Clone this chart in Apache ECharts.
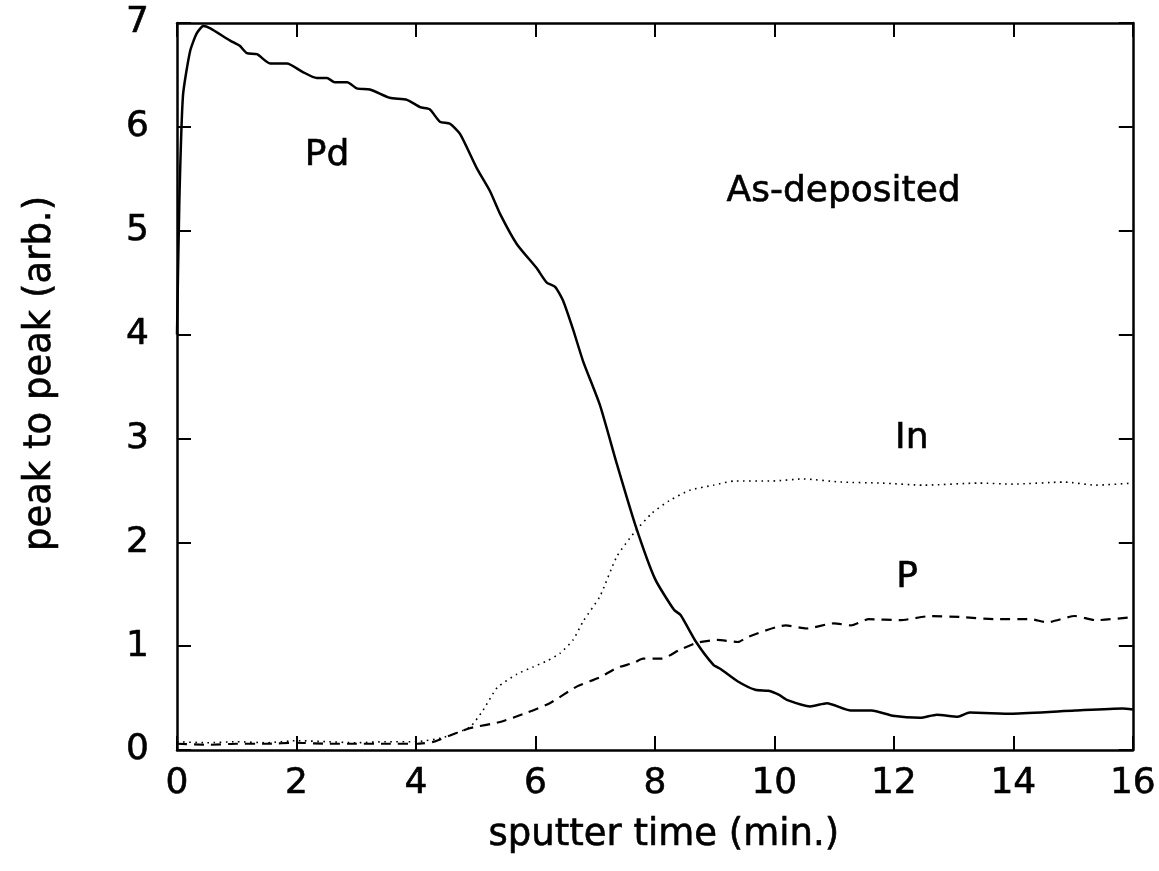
<!DOCTYPE html>
<html>
<head>
<meta charset="utf-8">
<title>AES depth profile</title>
<script src="https://cdn.jsdelivr.net/npm/echarts@6/dist/echarts.min.js"></script>
<style>
  html, body { margin: 0; padding: 0; background: #ffffff; }
  #chart { width: 1159px; height: 871px; }
</style>
</head>
<body>
<div id="chart"></div>
<script>
// Auger depth profile of the as-deposited film: peak-to-peak heights vs sputter time.
const xTicks = [0, 2, 4, 6, 8, 10, 12, 14, 16];
const yTicks = [0, 1, 2, 3, 4, 5, 6, 7];

// [sputter time (min), peak to peak (arb.)]
const pdSeries = [
  [0, 4.0], [0.04, 5.3], [0.1, 6.3], [0.22, 6.73], [0.33, 6.9], [0.44, 6.97], [0.55, 6.95],
  [0.89, 6.83], [1.05, 6.78], [1.17, 6.71], [1.34, 6.70], [1.56, 6.61], [1.84, 6.61],
  [2.1, 6.53], [2.34, 6.47], [2.51, 6.47], [2.64, 6.43], [2.85, 6.43], [3.01, 6.37],
  [3.23, 6.36], [3.56, 6.28], [3.85, 6.26], [4.07, 6.19], [4.23, 6.17], [4.40, 6.05],
  [4.57, 6.03], [4.74, 5.93], [5.02, 5.60], [5.24, 5.38], [5.41, 5.16], [5.69, 4.87],
  [6.02, 4.64], [6.19, 4.50], [6.33, 4.46], [6.46, 4.33], [6.63, 4.05], [6.80, 3.74],
  [7.08, 3.32], [7.36, 2.76], [7.67, 2.17], [8.0, 1.65], [8.32, 1.35], [8.43, 1.30],
  [8.69, 1.04], [8.98, 0.82], [9.10, 0.78], [9.39, 0.66], [9.68, 0.58], [9.9, 0.57],
  [10.08, 0.53], [10.22, 0.48], [10.6, 0.42], [10.88, 0.45], [11.28, 0.38], [11.63, 0.38],
  [11.98, 0.33], [12.44, 0.31], [12.72, 0.34], [13.07, 0.32], [13.27, 0.36], [13.99, 0.35],
  [15.03, 0.38], [15.83, 0.40], [16, 0.39]
];

const inSeries = [
  [0, 0.08], [0.5, 0.07], [1, 0.08], [1.5, 0.07], [2, 0.09], [2.5, 0.08], [3, 0.07],
  [3.5, 0.08], [4, 0.08], [4.45, 0.12], [4.9, 0.22], [5.12, 0.38], [5.36, 0.6],
  [5.69, 0.73], [5.96, 0.8], [6.2, 0.86], [6.41, 0.93], [6.63, 1.06], [6.8, 1.24],
  [7.08, 1.48], [7.36, 1.86], [7.65, 2.09], [7.95, 2.28], [8.24, 2.40], [8.58, 2.50],
  [8.98, 2.55], [9.33, 2.59], [9.96, 2.59], [10.48, 2.61], [11.11, 2.58], [11.8, 2.57],
  [12.5, 2.55], [13.43, 2.57], [13.99, 2.56], [14.86, 2.58], [15.38, 2.55], [16, 2.57]
];

const pSeries = [
  [0, 0.06], [0.5, 0.05], [1, 0.06], [1.5, 0.06], [2, 0.07], [2.5, 0.06], [3, 0.06],
  [3.5, 0.06], [4, 0.06], [4.3, 0.08], [4.57, 0.14], [4.9, 0.21], [5.41, 0.27],
  [5.86, 0.36], [6.24, 0.45], [6.69, 0.61], [7.08, 0.70], [7.36, 0.79], [7.65, 0.84],
  [7.8, 0.88], [8.12, 0.88], [8.4, 0.96], [8.69, 1.03], [9.04, 1.06], [9.39, 1.04],
  [9.56, 1.09], [10.19, 1.20], [10.54, 1.17], [11.0, 1.22], [11.28, 1.20], [11.58, 1.26],
  [12.1, 1.25], [12.62, 1.29], [13.14, 1.28], [13.7, 1.26], [14.28, 1.26], [14.57, 1.23],
  [15.03, 1.29], [15.38, 1.25], [16, 1.28]
];

// Text annotations placed in data coordinates: [label, x, y]
const annotations = [
  ['Pd', 2.14, 5.72],
  ['As-deposited', 9.2, 5.38],
  ['In', 12.02, 3.0],
  ['P', 12.04, 1.66]
];

const FONT = 'DejaVu Sans';
const INK = '#000000';
// a thin outline in the ink colour gives the lettering a slightly heavier stroke
const heavyText = { textBorderColor: INK, textBorderWidth: 0.6 };

const chart = echarts.init(document.getElementById('chart'), null, { renderer: 'canvas' });

const frameLine = { show: true, onZero: false, lineStyle: { color: INK, width: 2.5 } };
const innerTicks = { show: true, inside: true, length: 14, lineStyle: { color: INK, width: 2 } };

const xMin = xTicks[0], xMax = xTicks[xTicks.length - 1];
const yMin = yTicks[0], yMax = yTicks[yTicks.length - 1];

const option = {
  backgroundColor: '#ffffff',
  animation: false,
  grid: { left: 177, right: 26, top: 23, bottom: 121, containLabel: false },
  xAxis: [
    {
      type: 'value', min: xMin, max: xMax, interval: 2, position: 'bottom',
      name: 'sputter time (min.)', nameLocation: 'middle', nameGap: 67,
      nameTextStyle: Object.assign({ fontFamily: FONT, fontSize: 37, color: INK, padding: [0, 0, 0, 18] }, heavyText),
      axisLine: frameLine, axisTick: innerTicks, splitLine: { show: false },
      axisLabel: Object.assign({ margin: 16, fontFamily: FONT, fontSize: 36, color: INK }, heavyText)
    },
    {
      type: 'value', min: xMin, max: xMax, interval: 2, position: 'top',
      axisLine: frameLine, axisTick: innerTicks, splitLine: { show: false },
      axisLabel: { show: false }
    }
  ],
  yAxis: [
    {
      type: 'value', min: yMin, max: yMax, interval: 1, position: 'left',
      name: 'peak to peak (arb.)', nameLocation: 'middle', nameGap: 118, nameRotate: 90,
      nameTextStyle: Object.assign({ fontFamily: FONT, fontSize: 37, color: INK, padding: [0, 0, 0, 26] }, heavyText),
      axisLine: frameLine, axisTick: innerTicks, splitLine: { show: false },
      axisLabel: Object.assign({ margin: 28, fontFamily: FONT, fontSize: 36, color: INK }, heavyText)
    },
    {
      type: 'value', min: yMin, max: yMax, interval: 1, position: 'right',
      axisLine: frameLine, axisTick: innerTicks, splitLine: { show: false },
      axisLabel: { show: false }
    }
  ],
  series: [
    {
      name: 'Pd', type: 'line', data: pdSeries, showSymbol: false, smooth: 0.2,
      lineStyle: { color: INK, width: 2.5 }, z: 3
    },
    {
      name: 'In', type: 'line', data: inSeries, showSymbol: false, smooth: 0.2,
      lineStyle: { color: INK, width: 1.6, type: [1.6, 4.5] }, z: 2
    },
    {
      name: 'P', type: 'line', data: pSeries, showSymbol: false, smooth: 0.2,
      lineStyle: { color: INK, width: 2.2, type: [10, 7] }, z: 2
    }
  ]
};

chart.setOption(option);

// Annotation labels anchored at data positions through the grid's own scales
function placeAnnotations() {
  const elements = annotations.map(([text, x, y]) => {
    const [px, py] = chart.convertToPixel({ gridIndex: 0 }, [x, y]);
    return {
      type: 'text', x: px, y: py,
      style: {
        text: text, fill: INK, font: '36px "DejaVu Sans"',
        stroke: INK, lineWidth: 0.6,
        textAlign: 'left', textVerticalAlign: 'middle'
      }
    };
  });
  chart.setOption({ graphic: elements });
}
placeAnnotations();
</script>
</body>
</html>
